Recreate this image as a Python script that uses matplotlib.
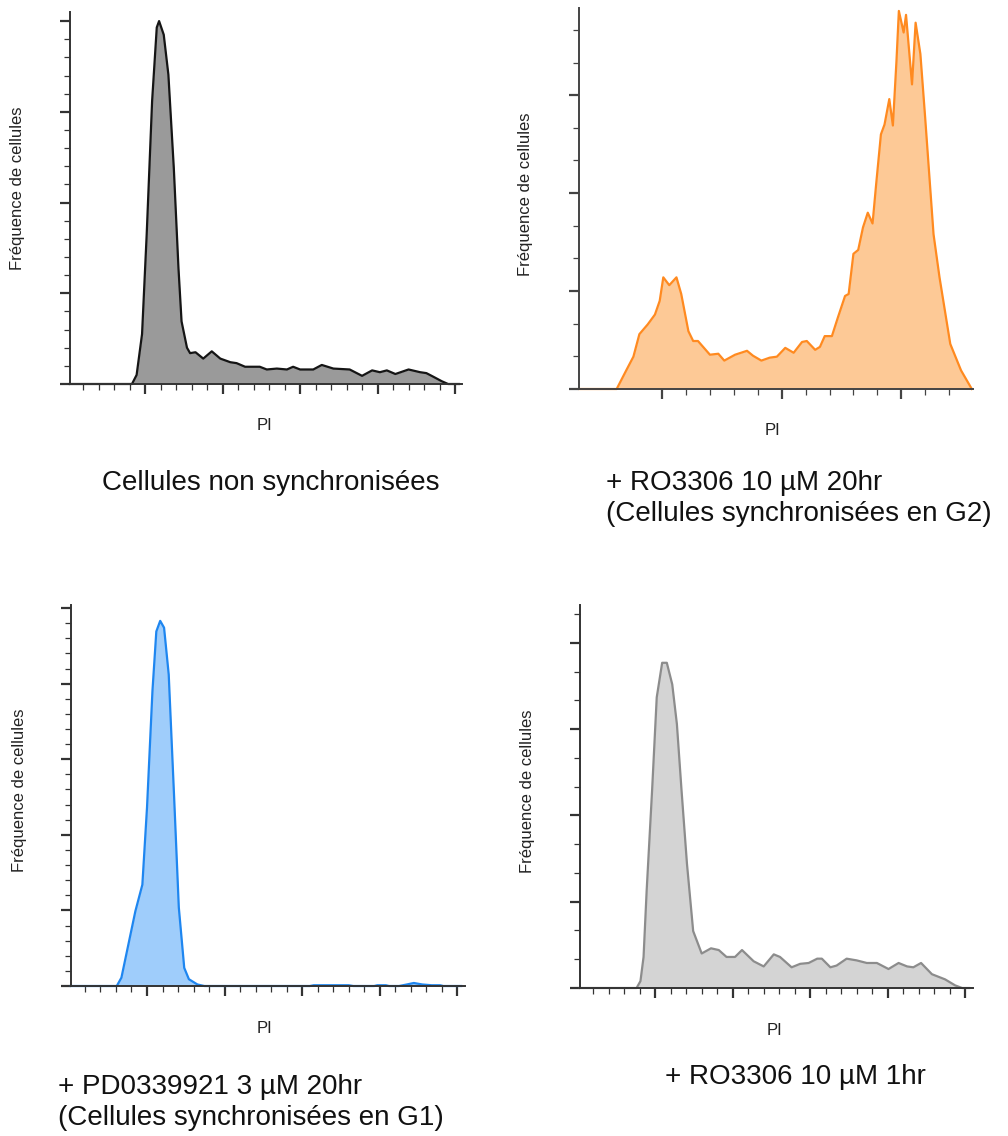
import numpy as np
import matplotlib.pyplot as plt
from matplotlib.ticker import MultipleLocator, FixedLocator

plt.rcParams['font.family'] = ['Liberation Sans', 'DejaVu Sans']

# %% data

# untreated cells
x_nonsync = [0.03, 0.83, 0.89, 0.96, 1.02, 1.09, 1.15, 1.18, 1.24, 1.30, 1.37, 1.43, 1.47,
             1.54, 1.58, 1.65, 1.75, 1.86, 1.97, 2.10, 2.18, 2.29, 2.48, 2.57, 2.70,
             2.83, 2.91, 3.00, 3.17, 3.28, 3.43, 3.64, 3.80, 3.93, 4.03, 4.12, 4.23,
             4.40, 4.55, 4.63, 4.72, 4.83, 4.91, 5.05]
y_nonsync = [0, 0, 0.10, 0.55, 1.65, 3.12, 3.93, 4.00, 3.85, 3.41, 2.38, 1.28, 0.69,
             0.40, 0.34, 0.35, 0.28, 0.36, 0.28, 0.24, 0.23, 0.19, 0.19, 0.16, 0.17,
             0.16, 0.19, 0.16, 0.16, 0.21, 0.17, 0.16, 0.09, 0.15, 0.13, 0.15, 0.11,
             0.16, 0.13, 0.12, 0.08, 0.03, 0, 0]

# RO3306 10 uM 20hr (G2)
x_ro20 = [0.31, 0.62, 0.70, 0.76, 0.81, 0.88, 0.94, 0.98, 1.01, 1.06, 1.12, 1.16, 1.22,
          1.26, 1.30, 1.40, 1.47, 1.52, 1.61, 1.71, 1.76, 1.83, 1.90, 1.96, 2.03,
          2.10, 2.17, 2.21, 2.28, 2.32, 2.36, 2.42, 2.47, 2.53, 2.56, 2.60, 2.64,
          2.68, 2.72, 2.76, 2.79, 2.83, 2.86, 2.90, 2.93, 2.96, 2.98, 3.02, 3.04,
          3.09, 3.12, 3.16, 3.20, 3.27, 3.32, 3.41, 3.50, 3.59]
y_ro20 = [0, 0, 0.19, 0.33, 0.56, 0.66, 0.76, 0.90, 1.14, 1.06, 1.14, 0.97, 0.59,
          0.49, 0.49, 0.35, 0.36, 0.29, 0.35, 0.39, 0.34, 0.29, 0.32, 0.33, 0.42,
          0.37, 0.48, 0.49, 0.40, 0.43, 0.54, 0.54, 0.73, 0.95, 0.97, 1.38, 1.42,
          1.65, 1.80, 1.69, 2.09, 2.60, 2.70, 2.96, 2.69, 3.35, 3.86, 3.64, 3.82,
          3.11, 3.74, 3.42, 2.77, 1.58, 1.14, 0.46, 0.19, 0]

# PD0339921 3 uM 20hr (G1)
x_pd = [0.02, 0.61, 0.67, 0.76, 0.85, 0.94, 1.00, 1.07, 1.12, 1.17, 1.22, 1.28, 1.35,
        1.41, 1.48, 1.54, 1.65, 1.74, 3.10, 3.15, 3.60, 3.66, 3.93, 3.97, 4.08, 4.12,
        4.25, 4.35, 4.44, 4.55, 4.67, 4.78, 4.82, 5.05]
y_pd = [0, 0, 0.11, 0.55, 0.99, 1.34, 2.36, 3.90, 4.69, 4.83, 4.74, 4.12, 2.49,
        1.04, 0.24, 0.09, 0.02, 0, 0, 0.01, 0.01, 0, 0, 0.01, 0.01, 0,
        0, 0.02, 0.04, 0.02, 0.01, 0.01, 0, 0]

# RO3306 10 uM 1hr
x_ro1 = [0.03, 0.76, 0.81, 0.85, 0.89, 0.96, 1.02, 1.09, 1.15, 1.22, 1.28, 1.34, 1.41,
         1.49, 1.60, 1.72, 1.82, 1.92, 2.03, 2.12, 2.27, 2.40, 2.53, 2.61, 2.76,
         2.87, 2.98, 3.09, 3.15, 3.26, 3.34, 3.47, 3.60, 3.73, 3.86, 4.01, 4.14,
         4.25, 4.33, 4.43, 4.57, 4.74, 4.87, 4.96, 5.05]
y_ro1 = [0, 0, 0.08, 0.36, 1.13, 2.29, 3.37, 3.77, 3.77, 3.52, 3.06, 2.29, 1.44,
         0.66, 0.40, 0.46, 0.44, 0.36, 0.36, 0.44, 0.31, 0.25, 0.39, 0.36, 0.24,
         0.28, 0.29, 0.34, 0.34, 0.24, 0.26, 0.34, 0.32, 0.29, 0.29, 0.22, 0.29,
         0.25, 0.24, 0.29, 0.16, 0.10, 0.03, 0, 0]

ylabel = "Fréquence de cellules"
xlabel = "PI"

# %%

fig = plt.figure(figsize=(10.08, 11.36), dpi=100)
W, H = 1008, 1136


def panel(rect, x, y, fill, edge, xlim, ylim, ymaj, ymin_step, xminor, spine="#333333"):
    l, t, r, b = rect
    ax = fig.add_axes([l / W, 1 - b / H, (r - l) / W, (b - t) / H])
    ax.fill_between(x, y, 0, color=fill, lw=0)
    ax.plot(x, y, color=edge, lw=1.6, clip_on=False, solid_joinstyle="round")
    ax.set_xlim(*xlim)
    ax.set_ylim(*ylim)
    for s in ["top", "right"]:
        ax.spines[s].set_visible(False)
    for s in ["left", "bottom"]:
        ax.spines[s].set_color(spine)
        ax.spines[s].set_linewidth(1.4)
    ax.xaxis.set_major_locator(MultipleLocator(1))
    ax.xaxis.set_minor_locator(FixedLocator(xminor))
    ax.yaxis.set_major_locator(MultipleLocator(ymaj))
    ax.yaxis.set_minor_locator(MultipleLocator(ymin_step))
    ax.tick_params(which="major", direction="out", length=7.5, width=1.6, color=spine,
                   labelbottom=False, labelleft=False)
    ax.tick_params(which="minor", direction="out", length=4, width=0.9, color=spine)
    ax.set_facecolor("none")
    return ax


minor_full = [v / 5 for v in range(1, 26) if v % 5 != 0]

panel((70, 12, 462, 384), x_nonsync, y_nonsync, "#9a9a9a", "#151515",
      (0.03, 5.09), (0, 4.10), 1, 0.2, minor_full)
panel((579, 8, 973, 389), x_ro20, y_ro20, "#fdc996", "#ff8a20",
      (0.305, 3.6), (0, 3.89), 1, 1 / 3,
      [1.2, 1.4, 1.6, 1.8, 2.2, 2.4, 2.6, 2.8, 3.2, 3.4], spine="#444444")
panel((71, 605, 465, 986), x_pd, y_pd, "#9fcdfb", "#1e86f0",
      (0.02, 5.1), (0, 5.04), 1, 0.2, minor_full)
panel((580, 605, 973, 988), x_ro1, y_ro1, "#d4d4d4", "#8c8c8c",
      (0.03, 5.1), (0, 4.44), 1, 1 / 3, minor_full)

# axis labels
for xr, yc in [(25, 188), (533, 194), (27, 790), (535, 791)]:
    fig.text(xr / W, 1 - yc / H, ylabel, rotation=90, ha="right", va="center",
             fontsize=12, color="#222222")
for xc, yb in [(264, 430), (772, 435), (265, 1033), (774, 1035)]:
    fig.text(xc / W, 1 - yb / H, xlabel, ha="center", va="baseline",
             fontsize=12, color="#222222")

# captions
cap = dict(fontsize=20, va="baseline", color="#111111")
fig.text(271 / W, 1 - 490 / H, "Cellules non synchronisées", ha="center", **cap)
fig.text(606 / W, 1 - 490 / H, "+ RO3306 10 µM 20hr", ha="left", **cap)
fig.text(606 / W, 1 - 521 / H, "(Cellules synchronisées en G2)", ha="left", **cap)
fig.text(58 / W, 1 - 1094 / H, "+ PD0339921 3 µM 20hr", ha="left", **cap)
fig.text(58 / W, 1 - 1125 / H, "(Cellules synchronisées en G1)", ha="left", **cap)
fig.text(665 / W, 1 - 1084 / H, "+ RO3306 10 µM 1hr", ha="left", **cap)

fig.savefig("out.png", dpi=100)
